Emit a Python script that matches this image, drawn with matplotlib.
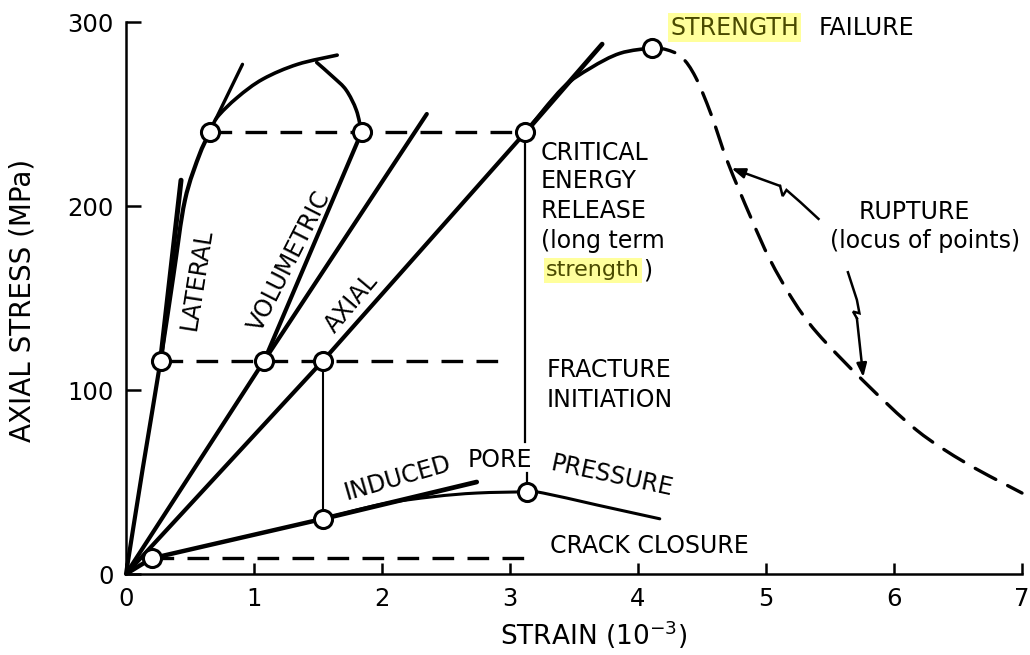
import numpy as np
import matplotlib
matplotlib.use("Agg")
import matplotlib.pyplot as plt
from matplotlib.path import Path
from matplotlib.patches import PathPatch

# ---------------- data (strain in 1e-3, stress in MPa) ----------------
lateral_x = [0.0, 0.13, 0.27, 0.37, 0.46, 0.58, 0.66]
lateral_y = [0, 57, 116, 162, 203, 229, 240]
lateral_post_x = [0.66, 0.71, 0.87, 1.07, 1.34, 1.65]
lateral_post_y = [240, 248, 259, 269, 277, 282]
lateral_tangent_x = [0.27, 0.43]
lateral_tangent_y = [116, 214]
lateral_spur_x = [0.70, 0.91]
lateral_spur_y = [247, 277]

vol_x = [0.0, 1.08, 1.84]
vol_y = [0, 116, 240]
vol_post_x = [1.84, 1.80, 1.72, 1.62, 1.49]
vol_post_y = [240, 252, 263, 270, 278]
vol_tangent_x = [1.08, 2.35]
vol_tangent_y = [116, 250]

axial_x = [0.0, 1.54, 3.12]
axial_y = [0, 116, 240]
axial_post_x = [3.12, 3.41, 3.63, 3.86, 4.11]
axial_post_y = [240, 264, 275, 283, 286]
axial_tangent_x = [3.12, 3.72]
axial_tangent_y = [240, 288]

pore_x = [0.0, 0.2, 1.54]
pore_y = [0, 8.5, 30]
pore_post_x = [1.54, 2.0, 2.4, 2.74, 3.13, 3.26, 3.68, 4.17]
pore_post_y = [30, 38, 42, 44, 44.6, 44, 37.5, 30]
pore_tangent_x = [1.54, 2.74]
pore_tangent_y = [30, 50]

rupture_x = [4.11, 4.22, 4.34, 4.45, 4.57, 4.70, 4.88, 5.03, 5.21, 5.40,
             5.76, 6.18, 6.57, 7.0]
rupture_y = [286, 285, 281, 270, 250, 224, 194, 171, 149, 131,
             105, 78, 60, 44]

crack_closure_level = 8.5
crack_closure_span = [0.2, 3.15]
fracture_init_level = 116
fracture_init_span = [0.27, 3.0]
ced_level = 240
ced_span = [0.66, 3.12]

points_x = [0.2, 0.27, 1.08, 1.54, 1.54, 0.66, 1.84, 3.12, 3.13, 4.11]
points_y = [8.5, 116, 116, 116, 30, 240, 240, 240, 44.6, 286]

arrow1_x = [5.41, 5.27, 5.16, 5.13, 5.11, 4.73]
arrow1_y = [193, 202, 208.7, 205.4, 210.9, 220.5]
arrow2_x = [5.64, 5.71, 5.73, 5.68, 5.71, 5.76]
arrow2_y = [164, 149, 141.7, 142.6, 139, 107]

x_ticks = [0, 1, 2, 3, 4, 5, 6, 7]
y_ticks = [0, 100, 200, 300]

# ---------------- figure ----------------
W, H = 1030, 655
fig = plt.figure(figsize=(W / 100, H / 100), dpi=100)
ax = fig.add_axes([126 / W, 1 - 574 / H, 896 / W, 552 / H])
ax.set_xlim(0, 7)
ax.set_ylim(0, 300)

K = 'black'
FS = 17


def smooth(xs, ys):
    P = np.column_stack([xs, ys]).astype(float)
    n = len(P)
    verts = [P[0]]
    codes = [Path.MOVETO]
    for i in range(n - 1):
        p0 = P[i - 1] if i > 0 else P[i]
        p1, p2 = P[i], P[i + 1]
        p3 = P[i + 2] if i + 2 < n else P[i + 1]
        verts += [p1 + (p2 - p0) / 6, p2 - (p3 - p1) / 6, p2]
        codes += [Path.CURVE4] * 3
    return Path(verts, codes)


def curve(xs, ys, lw=3.0, ls='-', z=2):
    ax.add_patch(PathPatch(smooth(xs, ys), fill=False, edgecolor=K, lw=lw,
                           linestyle=ls, capstyle='round', joinstyle='round',
                           zorder=z, clip_on=False))


# main curves
curve(lateral_x, lateral_y, lw=3.0)
curve(lateral_post_x, lateral_post_y, lw=2.6)
ax.plot(lateral_tangent_x, lateral_tangent_y, color=K, lw=3.6, solid_capstyle='round')
ax.plot(lateral_spur_x, lateral_spur_y, color=K, lw=2.4, solid_capstyle='round')

ax.plot(vol_x, vol_y, color=K, lw=3.0, solid_capstyle='round')
curve(vol_post_x, vol_post_y, lw=2.6)
ax.plot(vol_tangent_x, vol_tangent_y, color=K, lw=3.0, solid_capstyle='round')

ax.plot(axial_x, axial_y, color=K, lw=3.0, solid_capstyle='round')
curve(axial_post_x, axial_post_y, lw=2.6)
ax.plot(axial_tangent_x, axial_tangent_y, color=K, lw=3.4, solid_capstyle='round')

ax.plot(pore_x, pore_y, color=K, lw=3.2, solid_capstyle='round')
curve(pore_post_x, pore_post_y, lw=2.2)
ax.plot(pore_tangent_x, pore_tangent_y, color=K, lw=3.4, solid_capstyle='round')

curve(rupture_x, rupture_y, lw=2.4, ls=(0, (7, 4)))

# dashed levels
dash = (0, (6.5, 4))
ax.plot(crack_closure_span, [crack_closure_level] * 2, color=K, lw=2.4, linestyle=dash)
ax.plot(fracture_init_span, [fracture_init_level] * 2, color=K, lw=2.4, linestyle=dash)
ax.plot(ced_span, [ced_level] * 2, color=K, lw=2.4, linestyle=dash)

# vertical connectors
ax.plot([points_x[3], points_x[4]], [points_y[3], points_y[4]], color=K, lw=1.5)
ax.plot([points_x[7], points_x[7]], [points_y[7], 72], color=K, lw=1.6)
ax.plot([points_x[8], points_x[8]], [55, points_y[8]], color=K, lw=1.6)

# circles
ax.plot(points_x, points_y, 'o', ms=13, mfc='white', mec=K, mew=2.2,
        zorder=5, clip_on=False)

# rupture arrows
for xs, ys in [(arrow1_x, arrow1_y), (arrow2_x, arrow2_y)]:
    ax.plot(xs[:-1], ys[:-1], color=K, lw=1.8, solid_joinstyle='miter')
    ax.annotate('', xy=(xs[-1], ys[-1]), xytext=(xs[-2], ys[-2]),
                arrowprops=dict(arrowstyle='-|>,head_length=0.8,head_width=0.3',
                                color=K, lw=1.8, shrinkA=0, shrinkB=0))

# ---------------- text ----------------
hl = dict(boxstyle='square,pad=0.1', facecolor='#ffff9c', edgecolor='none')
olive = '#4a4a00'

ax.text(4.25, 297, 'STRENGTH', fontsize=FS, color=olive, va='center', ha='left',
        bbox=hl, clip_on=False)
ax.text(5.41, 297, 'FAILURE', fontsize=FS, va='center', ha='left', clip_on=False)

for txt, yy in [('CRITICAL', 229), ('ENERGY', 213.5), ('RELEASE', 197.5),
                ('(long term', 181)]:
    ax.text(3.24, yy, txt, fontsize=FS, va='center', ha='left')
ax.text(3.28, 165, 'strength', fontsize=16, color=olive, va='center',
        ha='left', bbox=hl)
ax.text(4.04, 165, ')', fontsize=FS, va='center', ha='left')

ax.text(3.29, 111, 'FRACTURE', fontsize=FS, va='center', ha='left')
ax.text(3.29, 94.5, 'INITIATION', fontsize=FS, va='center', ha='left')

ax.text(6.16, 197, 'RUPTURE', fontsize=FS, va='center', ha='center')
ax.text(6.24, 181, '(locus of points)', fontsize=FS, va='center', ha='center')

ax.text(3.31, 15, 'CRACK CLOSURE', fontsize=FS, va='center', ha='left')

ax.text(2.12, 52, 'INDUCED', fontsize=FS, va='center', ha='center',
        rotation=16, rotation_mode='anchor')
ax.text(2.92, 62, 'PORE', fontsize=FS, va='center', ha='center')
ax.text(3.80, 53, 'PRESSURE', fontsize=FS, va='center', ha='center',
        rotation=-12, rotation_mode='anchor')

ax.text(0.55, 160, 'LATERAL', fontsize=FS, va='center', ha='center',
        rotation=81, rotation_mode='anchor')
ax.text(1.28, 170, 'VOLUMETRIC', fontsize=FS, va='center', ha='center',
        rotation=63, rotation_mode='anchor')
ax.text(1.76, 147, 'AXIAL', fontsize=FS, va='center', ha='center',
        rotation=50, rotation_mode='anchor')

# ---------------- axes ----------------
for s in ['top', 'right']:
    ax.spines[s].set_visible(False)
for s in ['left', 'bottom']:
    ax.spines[s].set_linewidth(1.8)
ax.set_xticks(x_ticks)
ax.set_yticks(y_ticks)
ax.tick_params(axis='y', direction='in', length=11, width=1.8, pad=9, labelsize=17.5)
ax.tick_params(axis='x', direction='in', length=8, width=1.8, pad=9, labelsize=17.5)

ax.set_xlabel('STRAIN (10$^{-3}$)', fontsize=19)
ax.xaxis.set_label_coords(0.522, -0.08)
ax.set_ylabel('AXIAL STRESS (MPa)', fontsize=20)
ax.yaxis.set_label_coords(-0.10, 0.496)

fig.savefig('out.png', dpi=100)
